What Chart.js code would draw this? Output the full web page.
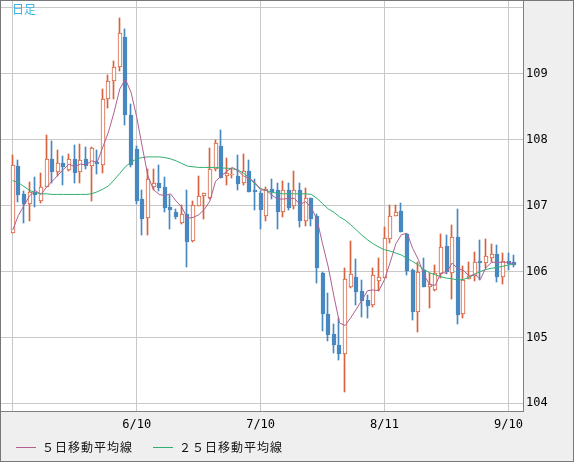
<!DOCTYPE html>
<html><head><meta charset="utf-8">
<script src="https://cdn.jsdelivr.net/npm/chart.js@4.4.1/dist/chart.umd.min.js"></script>
<style>
html,body{margin:0;padding:0;background:#fff;}
#wrap{position:relative;width:574px;height:462px;box-sizing:border-box;border:1px solid #787878;background:#efefef;overflow:hidden;}
#c{position:absolute;left:0;top:0;}
.lbl{position:absolute;font-family:"Noto Sans CJK JP",sans-serif;font-size:12px;line-height:14px;white-space:nowrap;color:#111;letter-spacing:1px;}
.sw{position:absolute;height:1px;width:20px;}
</style></head><body>
<div id="wrap">
<canvas id="c" width="572" height="460" style="width:572px;height:460px"></canvas>
</div>
<script>
// ---- data ----
const tickIdx = [0, 22, 44, 66, 88];
const tickLabels = ['', '6/10', '7/10', '8/11', '9/10'];
const yTicks = [104, 105, 106, 107, 108, 109, 110];
const yTickLabels = ['104', '105', '106', '107', '108', '109', ''];
const chartTitle = '日足';
const seriesNames = ['５日移動平均線', '２５日移動平均線'];

const openP = [106.59,107.60,107.18,107.03,107.21,107.07,107.29,107.71,107.51,107.64,
107.54,107.71,107.51,107.71,107.60,107.66,107.61,108.62,108.89,109.11,
109.56,108.38,107.86,107.10,106.81,107.29,107.35,107.28,106.98,106.90,
106.73,106.88,106.47,107.00,107.15,107.11,107.55,107.91,107.45,107.46,
107.45,107.34,107.53,107.24,107.19,106.85,107.26,107.23,106.91,107.23,
107.00,107.23,106.76,107.11,106.85,105.97,105.36,105.05,104.89,104.75,
105.76,105.91,105.70,105.57,105.49,105.85,105.90,106.49,106.85,106.92,
106.57,106.02,105.39,106.03,105.77,105.72,105.96,106.39,105.98,106.52,
105.36,105.88,105.93,106.16,106.13,106.20,106.26,105.91,106.16,106.15];
const highP = [107.77,107.69,107.22,107.36,107.44,107.49,108.07,107.98,107.85,107.76,
107.78,107.92,107.93,107.89,107.89,107.85,108.77,108.98,109.20,109.85,
109.68,108.55,107.90,107.23,107.56,107.56,107.62,107.43,107.16,106.95,
107.01,107.23,107.07,107.45,107.19,107.88,107.99,108.15,107.72,107.57,
107.77,107.78,107.70,107.41,107.22,107.29,107.41,107.34,107.38,107.35,
107.52,107.35,107.27,107.12,106.88,105.99,105.67,105.21,105.29,106.06,
106.46,106.19,105.87,105.64,106.06,106.20,106.67,107.01,107.01,107.04,
106.57,106.04,106.15,106.20,105.98,106.10,106.57,106.55,106.71,106.95,
106.08,106.15,106.30,106.48,106.49,106.42,106.40,106.28,106.28,106.25];
const lowP = [106.58,107.06,106.73,106.77,106.98,107.04,107.28,107.34,107.45,107.32,
107.53,107.35,107.35,107.55,107.07,107.48,107.50,108.48,108.62,109.04,
108.22,107.58,107.02,106.56,106.56,107.24,107.22,106.91,106.65,106.80,
106.72,106.07,106.45,107.00,106.79,107.10,107.52,107.42,107.31,107.42,
107.24,107.31,107.20,106.93,106.65,106.77,107.10,106.65,106.83,106.94,
106.95,106.68,106.69,106.69,105.83,105.09,104.94,104.77,104.66,104.17,
105.75,105.49,105.31,105.29,105.46,105.70,105.90,106.43,106.85,106.60,
105.94,105.26,105.08,105.77,105.44,105.70,105.90,105.96,105.59,105.20,
105.29,105.88,105.86,105.87,106.06,106.15,105.84,105.81,106.02,106.07];
const closeP = [107.61,107.16,107.03,107.20,107.16,107.29,107.71,107.51,107.64,107.59,
107.71,107.50,107.70,107.60,107.88,107.63,108.62,108.89,109.10,109.62,
108.37,107.61,107.07,106.79,107.40,107.34,107.27,106.97,106.93,106.83,
106.88,106.45,107.01,107.15,107.19,107.56,107.95,107.42,107.50,107.47,
107.33,107.53,107.21,107.21,106.93,107.25,107.20,106.91,107.23,106.97,
107.23,106.76,107.11,106.80,106.05,105.36,105.04,104.89,104.75,105.88,
105.96,105.69,105.55,105.48,105.94,105.91,106.51,106.85,106.91,106.60,
106.01,105.39,106.00,105.77,105.81,105.97,106.37,105.99,106.52,105.34,
105.87,105.93,106.15,106.13,106.24,106.26,105.92,106.16,106.11,106.10];
const ma5 = [106.63,106.85,107.00,107.15,107.23,107.17,107.28,107.37,107.46,107.55,
107.63,107.59,107.63,107.62,107.68,107.66,107.89,108.12,108.42,108.77,
108.92,108.72,108.35,107.89,107.45,107.24,107.17,107.15,107.18,107.07,
106.98,106.81,106.82,106.86,106.94,107.07,107.37,107.45,107.52,107.58,
107.53,107.45,107.41,107.35,107.24,107.23,107.16,107.10,107.10,107.11,
107.11,107.02,107.06,106.97,106.79,106.42,106.07,105.63,105.22,105.18,
105.30,105.43,105.57,105.71,105.72,105.71,105.88,106.14,106.42,106.56,
106.58,106.35,106.18,105.95,105.80,105.79,105.98,105.98,106.13,106.04,
106.02,105.93,105.96,105.88,106.06,106.14,106.14,106.14,106.14,106.11];
const ma25 = [107.38,107.35,107.29,107.23,107.20,107.18,107.18,107.17,107.17,107.17,
107.17,107.17,107.17,107.17,107.18,107.21,107.25,107.30,107.39,107.49,
107.59,107.66,107.71,107.73,107.74,107.74,107.74,107.73,107.71,107.68,
107.64,107.60,107.59,107.58,107.58,107.58,107.58,107.57,107.57,107.56,
107.54,107.49,107.42,107.33,107.26,107.23,107.20,107.19,107.18,107.18,
107.18,107.18,107.18,107.17,107.11,107.03,106.95,106.90,106.83,106.78,
106.71,106.63,106.55,106.48,106.42,106.37,106.33,106.31,106.28,106.25,
106.20,106.15,106.10,106.03,105.98,105.95,105.92,105.90,105.89,105.87,
105.88,105.91,105.96,106.00,106.03,106.05,106.06,106.08,106.10,106.11];

// ---- styles ----
const UP = '#d8623e', DOWN = '#4888c0', MA5C = '#b06090', MA25C = '#30b070';
const GRID = '#c8c8c8', FRAME = '#808080';
const NUMFONT = {family: '"DejaVu Sans Mono", monospace', size: 12};

// ---- overlay texts (title + legend) ----
const wrap = document.getElementById('wrap');
function addText(txt, left, top, color, ls) {
  const d = document.createElement('div');
  d.className = 'lbl'; d.textContent = txt;
  d.style.left = left + 'px'; d.style.top = top + 'px';
  if (color) d.style.color = color;
  if (ls !== undefined) d.style.letterSpacing = ls + 'px';
  wrap.appendChild(d);
}
function addSwatch(left, top, color) {
  const d = document.createElement('div');
  d.className = 'sw'; d.style.left = left + 'px'; d.style.top = top + 'px'; d.style.background = color;
  wrap.appendChild(d);
}
addText(chartTitle, 11, 1, '#3cb4e6', 0);
addSwatch(15, 446, MA5C);
addText(seriesNames[0], 41, 439);
addSwatch(152, 446, MA25C);
addText(seriesNames[1], 178, 439);

// ---- chart ----
const idx = closeP.map((_, i) => i);
const isUp = i => closeP[i] >= openP[i];

const bgPlugin = {
  id: 'plotBg',
  beforeDraw(chart) {
    const {ctx, chartArea: a} = chart;
    ctx.save(); ctx.fillStyle = '#ffffff';
    ctx.fillRect(a.left, a.top, a.right - a.left, a.bottom - a.top);
    ctx.restore();
  }
};
const snapPlugin = {
  id: 'pixelSnap',
  afterDatasetsUpdate(chart) {
    chart.data.datasets.forEach((ds, di) => {
      if (ds.type === 'line') return;
      chart.getDatasetMeta(di).data.forEach(el => {
        const X = Math.round(el.x);
        el.x = ds.label === 'wick' ? X - 0.5 : X;
        let y = Math.round(el.y), b = Math.round(el.base);
        if (Math.abs(y - b) < 1) b = y + 1;
        el.y = y; el.base = b;
      });
    });
  }
};

new Chart(document.getElementById('c'), {
  type: 'bar',
  data: {
    datasets: [
      {type: 'line', label: seriesNames[0], data: idx.map(i => ({x: i, y: ma5[i]})),
       borderColor: MA5C, borderWidth: 1, pointRadius: 0, tension: 0, fill: false, order: 0},
      {type: 'line', label: seriesNames[1], data: idx.map(i => ({x: i, y: ma25[i]})),
       borderColor: MA25C, borderWidth: 1, pointRadius: 0, tension: 0, fill: false, order: 1},
      {type: 'bar', label: 'body', data: idx.map(i => ({x: i, y: [openP[i], closeP[i]]})),
       grouped: false, barThickness: 4, minBarLength: 1, borderWidth: 1, borderSkipped: false,
       backgroundColor: c => isUp(c.dataIndex) ? '#ffffff' : DOWN,
       borderColor: c => isUp(c.dataIndex) ? UP : DOWN, order: 2},
      {type: 'bar', label: 'wick', data: idx.map(i => ({x: i, y: [lowP[i], highP[i]]})),
       grouped: false, barThickness: 1, borderWidth: 0,
       backgroundColor: c => isUp(c.dataIndex) ? UP : DOWN, order: 3}
    ]
  },
  options: {
    responsive: false, animation: false, events: [],
    layout: {padding: 0},
    plugins: {legend: {display: false}, tooltip: {enabled: false}},
    scales: {
      x: {
        type: 'linear', min: -2.077, max: 90.57, offset: false,
        afterBuildTicks: s => { s.ticks = tickIdx.map(v => ({value: v})); },
        afterFit: s => { s.height = 50; s.paddingLeft = 0; s.paddingRight = 0; },
        grid: {color: GRID, lineWidth: 1, drawTicks: false, offset: false},
        border: {display: true, color: FRAME, width: 1},
        ticks: {autoSkip: false, maxRotation: 0, minRotation: 0, padding: 7, color: '#000', font: NUMFONT,
                callback: v => { const k = tickIdx.indexOf(v); return k >= 0 ? tickLabels[k] : ''; }}
      },
      y: {
        type: 'linear', position: 'right', min: 103.883, max: 110.106, beginAtZero: false,
        afterBuildTicks: s => { s.ticks = yTicks.map(v => ({value: v})); },
        afterFit: s => { s.width = 50; s.paddingTop = 0; s.paddingBottom = 0; },
        grid: {color: GRID, lineWidth: 1, drawTicks: false},
        border: {display: true, color: FRAME, width: 1},
        ticks: {padding: 3, color: '#000', font: NUMFONT,
                callback: v => { const k = yTicks.indexOf(v); return k >= 0 ? yTickLabels[k] : ''; }}
      }
    }
  },
  plugins: [bgPlugin, snapPlugin]
});
</script>
</body></html>
